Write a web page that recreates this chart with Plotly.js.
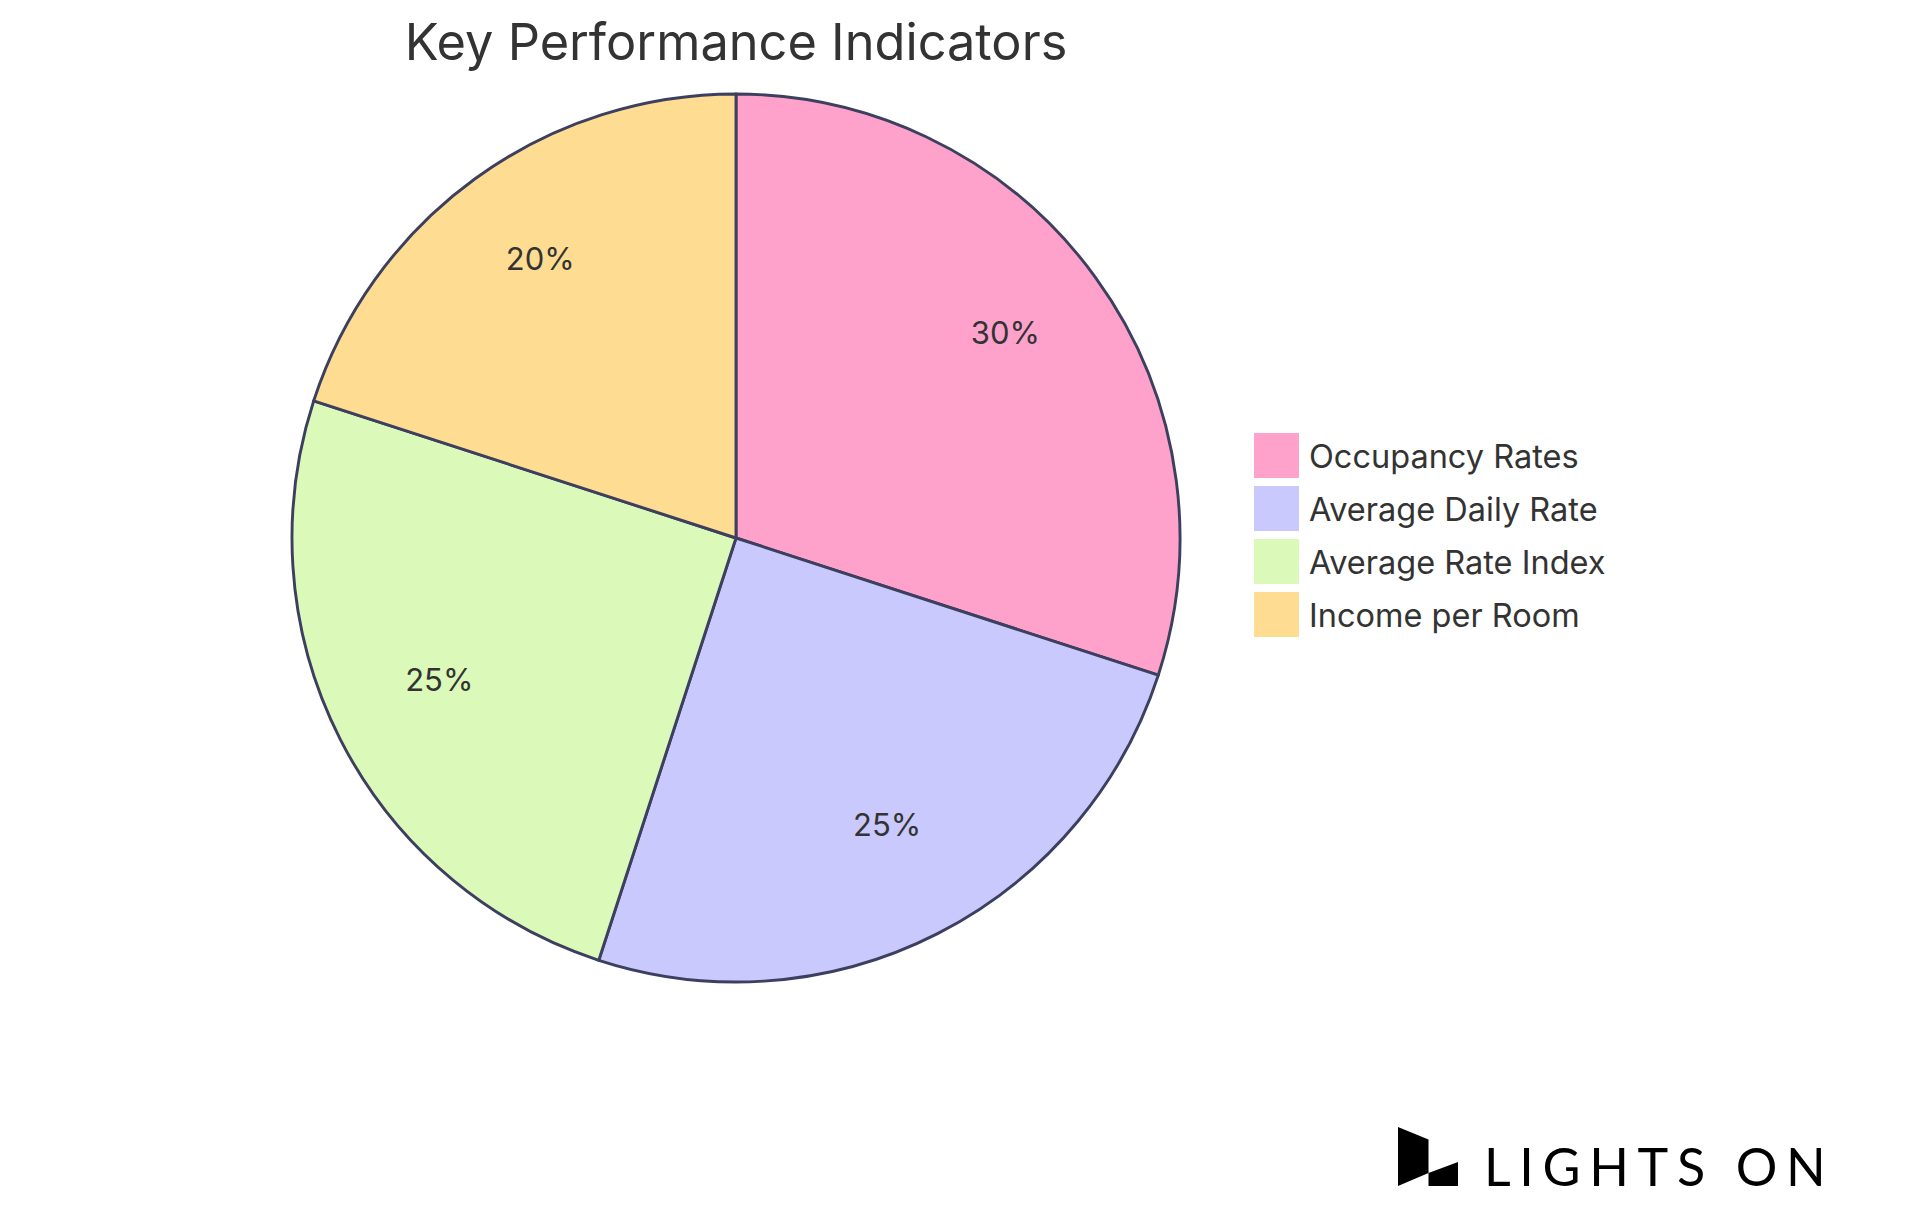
<!DOCTYPE html>
<html>
<head>
<meta charset="utf-8">
<script src="https://cdn.plot.ly/plotly-3.0.1.min.js"></script>
<style>
html,body{margin:0;padding:0;background:#fff;}
#chart{width:1920px;height:1215px;}
</style>
</head>
<body>
<div id="chart"></div>
<script>
const categories = ["Occupancy Rates", "Average Daily Rate", "Average Rate Index", "Income per Room"];
const values = [30, 25, 25, 20];
const colors = ["#FFA2CB", "#C9C9FE", "#DBF9B9", "#FEDD93"];
const chartTitle = "Key Performance Indicators";
const brandText = "LIGHTS ON";

const W = 1920, H = 1215;
const px = x => x / W;
const py = y => 1 - y / H;
const pieDomain = {x: [px(292), px(1180)], y: [py(983), py(93)]};
// label ring shares the pie, lifted slightly so the digits sit optically centred
const labelDomain = {x: [px(292), px(1180)], y: [py(973), py(83)]};
const textFont = {family: "Inter, 'Open Sans', sans-serif", size: 31, color: "#333333"};

// filled slices
const slices = {
  type: "pie",
  labels: categories,
  values: values,
  sort: false,
  direction: "clockwise",
  rotation: 0,
  marker: {colors: colors, line: {color: "#3D3F5F", width: 2.9}},
  textinfo: "none",
  hoverinfo: "label+percent",
  domain: pieDomain,
  showlegend: false
};

// same data, transparent ring on top: carries the percent labels out at ~3/4 radius
const labelsRing = {
  type: "pie",
  labels: categories,
  values: values,
  sort: false,
  direction: "clockwise",
  rotation: 0,
  hole: 0.5,
  marker: {colors: categories.map(() => "rgba(0,0,0,0)"), line: {width: 0}},
  textinfo: "percent",
  texttemplate: "%{percent:.0%}",
  textposition: "inside",
  insidetextorientation: "horizontal",
  insidetextfont: textFont,
  textfont: textFont,
  hoverinfo: "skip",
  domain: labelDomain,
  showlegend: false
};

const shapes = [];
const annotations = [];

// custom legend (square swatches)
const legTop = 433, legPitch = 53, sw = 45, legX = 1254;
categories.forEach((c, i) => {
  const y0 = legTop + i * legPitch;
  shapes.push({type: "rect", xref: "paper", yref: "paper",
    x0: px(legX), x1: px(legX + sw), y0: py(y0 + sw), y1: py(y0),
    fillcolor: colors[i], line: {width: 0}});
  annotations.push({xref: "paper", yref: "paper", x: px(legX + sw + 8), y: py(y0 + sw / 2 + 1),
    xanchor: "left", yanchor: "middle", showarrow: false, text: c,
    font: {family: "Inter, 'Open Sans', sans-serif", size: 32.5, color: "#333333"}});
});

// brand logo
const pathFrom = pts => "M" + pts.map(p => px(p[0]) + "," + py(p[1])).join("L") + "Z";
shapes.push({type: "path", xref: "paper", yref: "paper",
  path: pathFrom([[1398, 1127], [1428.5, 1139.5], [1428.5, 1173], [1398, 1186]]),
  fillcolor: "#000000", line: {width: 0}});
shapes.push({type: "path", xref: "paper", yref: "paper",
  path: pathFrom([[1428.5, 1173], [1458, 1162], [1458, 1186], [1428.5, 1186]]),
  fillcolor: "#000000", line: {width: 0}});
annotations.push({xref: "paper", yref: "paper", x: px(1482), y: py(1166),
  xanchor: "left", yanchor: "middle", showarrow: false,
  text: brandText.split("").join("\u2006"),
  font: {family: "Lato, 'Open Sans', sans-serif", size: 52, color: "#000000"}});

const layout = {
  width: W, height: H,
  margin: {l: 0, r: 0, t: 0, b: 0},
  paper_bgcolor: "#ffffff",
  plot_bgcolor: "#ffffff",
  showlegend: false,
  title: {text: chartTitle, x: px(736), xref: "paper", xanchor: "center",
          y: py(42), yref: "container", yanchor: "middle",
          font: {family: "Inter, 'Open Sans', sans-serif", size: 50.5, color: "#333333"}},
  shapes: shapes,
  annotations: annotations
};

Plotly.newPlot("chart", [slices, labelsRing], layout, {displayModeBar: false, staticPlot: true});
</script>
</body>
</html>
